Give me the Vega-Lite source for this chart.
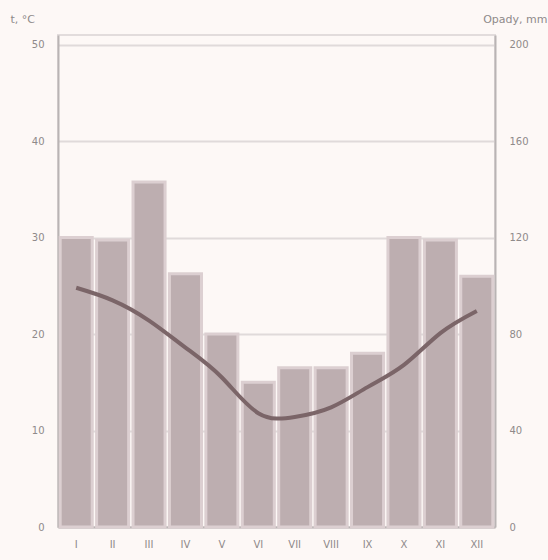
{
  "$schema": "https://vega.github.io/schema/vega-lite/v6.json",
  "width": 437,
  "height": 492,
  "autosize": "none",
  "padding": {"left": 58, "top": 35, "right": 53, "bottom": 33},
  "background": "#fdf8f6",
  "config": {
    "view": {"stroke": "#e2dcdc", "strokeWidth": 2},
    "axis": {"labelFont": "DejaVu Sans", "labelFontSize": 10, "labelColor": "#8f8a8a", "titleFont": "DejaVu Sans", "titleFontSize": 11, "titleColor": "#8f8a8a", "titleFontWeight": "normal", "domainColor": "#b9b4b4", "tickColor": "#b9b4b4"}
  },
  "data": {
    "values": [
      {"month": "I", "temp": 24.8, "precip": 120},
      {"month": "II", "temp": 23.5, "precip": 119},
      {"month": "III", "temp": 21.4, "precip": 143},
      {"month": "IV", "temp": 18.6, "precip": 105},
      {"month": "V", "temp": 15.5, "precip": 80},
      {"month": "VI", "temp": 11.8, "precip": 60},
      {"month": "VII", "temp": 11.4, "precip": 66},
      {"month": "VIII", "temp": 12.4, "precip": 66},
      {"month": "IX", "temp": 14.5, "precip": 72},
      {"month": "X", "temp": 16.8, "precip": 120},
      {"month": "XI", "temp": 20.1, "precip": 119},
      {"month": "XII", "temp": 22.4, "precip": 104}
    ]
  },
  "encoding": {
    "x": {
      "field": "month", "type": "nominal", "sort": null,
      "scale": {"paddingInner": 0.12, "paddingOuter": 0.06},
      "axis": {"title": null, "labelAngle": 0, "ticks": false, "labelPadding": 12, "domain": true, "domainWidth": 2}
    }
  },
  "layer": [
    {
      "mark": {"type": "bar", "color": "#bdaeb0", "stroke": "#dccfd1", "strokeWidth": 3},
      "encoding": {
        "y": {
          "field": "precip", "type": "quantitative",
          "scale": {"domain": [0, 204], "nice": false},
          "axis": {"orient": "right", "values": [0, 40, 80, 120, 160, 200], "grid": false, "domain": true, "domainWidth": 2, "ticks": false, "labelPadding": 14, "title": "Opady, mm", "titleAngle": 0, "titleAlign": "right", "titleBaseline": "middle", "titleX": 52, "titleY": -16}
        }
      }
    },
    {
      "mark": {"type": "line", "color": "#7b6568", "strokeWidth": 4, "interpolate": "natural"},
      "encoding": {
        "y": {
          "field": "temp", "type": "quantitative",
          "scale": {"domain": [0, 51], "nice": false},
          "axis": {"orient": "left", "values": [0, 10, 20, 30, 40, 50], "grid": true, "gridColor": "#e0dada", "gridWidth": 2, "domain": true, "domainWidth": 2, "ticks": false, "labelPadding": 14, "title": "t, °C", "titleAngle": 0, "titleAlign": "left", "titleBaseline": "middle", "titleX": -48, "titleY": -16}
        }
      }
    }
  ],
  "resolve": {"scale": {"y": "independent"}}
}
